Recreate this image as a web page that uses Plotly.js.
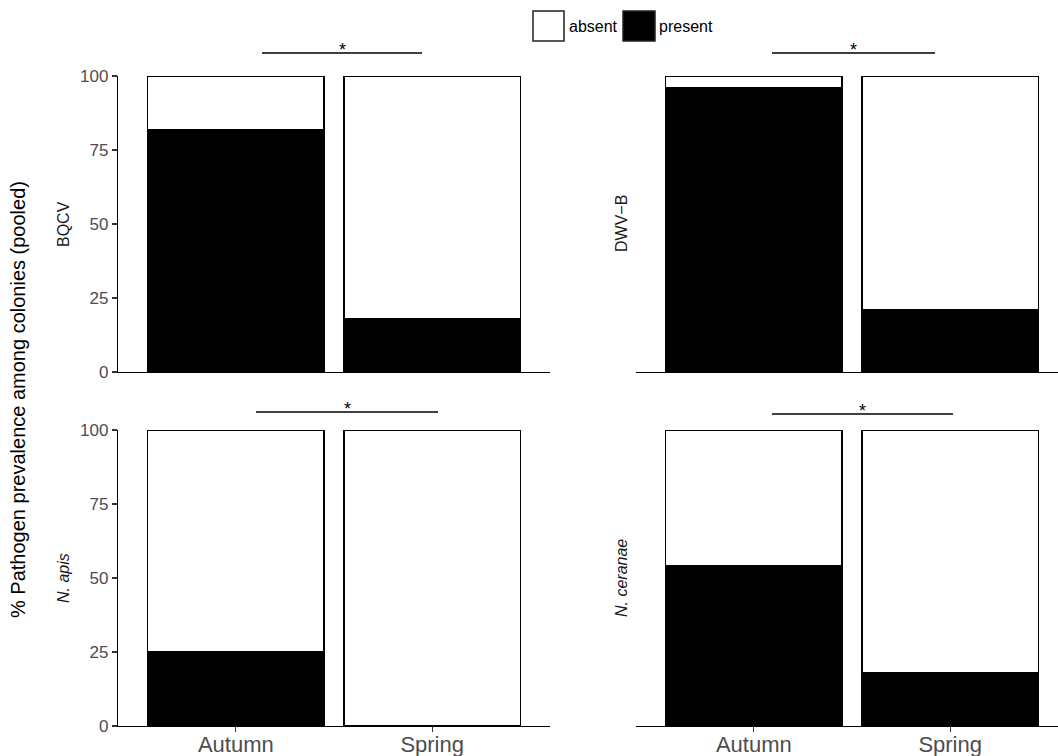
<!DOCTYPE html>
<html>
<head>
<meta charset="utf-8">
<script src="https://cdn.plot.ly/plotly-3.0.1.min.js"></script>
<style>html,body{margin:0;padding:0;background:#fff;}#chart{width:1058px;height:756px;}</style>
</head>
<body>
<div id="chart"></div>
<script>
// ---- data ----
const seasons = ['Autumn', 'Spring'];
const pathogens = ['BQCV', 'DWV\u2212B', '<i>N. apis</i>', '<i>N. ceranae</i>'];
const presentBQCV = [82, 18];
const absentBQCV = [18, 82];
const presentDWVB = [96, 21];
const absentDWVB = [4, 79];
const presentNapis = [25, 0];
const absentNapis = [75, 100];
const presentNceranae = [54, 18];
const absentNceranae = [46, 82];
const yTickVals = [0, 25, 50, 75, 100];
const yTickText = ['0', '25', '50', '75', '100'];
const legendLabels = ['absent', 'present'];
const yTitle = '% Pathogen prevalence among colonies (pooled)';
const sigLabel = '*';

// ---- helpers ----
const W = 1058, H = 756;
const px = x => x / W;
const py = y => 1 - y / H;
const FONT = 'Liberation Sans, Arial, Helvetica, sans-serif';

const panels = [
  {present: presentBQCV, absent: absentBQCV, xa: 'x', ya: 'y'},
  {present: presentDWVB, absent: absentDWVB, xa: 'x2', ya: 'y2'},
  {present: presentNapis, absent: absentNapis, xa: 'x3', ya: 'y3'},
  {present: presentNceranae, absent: absentNceranae, xa: 'x4', ya: 'y4'}
];

const traces = [];
panels.forEach(p => {
  traces.push({type: 'bar', x: seasons, y: p.present, xaxis: p.xa, yaxis: p.ya,
    marker: {color: '#000000', line: {color: '#000000', width: 1.5}},
    name: legendLabels[1], showlegend: false, hoverinfo: 'skip'});
  traces.push({type: 'bar', x: seasons, y: p.absent, xaxis: p.xa, yaxis: p.ya,
    marker: {color: '#ffffff', line: {color: '#000000', width: 1.5}},
    name: legendLabels[0], showlegend: false, hoverinfo: 'skip'});
});

const leftDom = [px(118), px(550)];
const rightDom = [px(636), 1];
const topDom = [py(372), py(76)];
const botDom = [py(726), py(430)];
const unit = (550 - 118) / 2.2;
const leftRange = [-0.6, 1.6];
const rightRange = [-0.6, -0.6 + (W - 636) / unit];

function xaxisDef(dom, range, anchor, bottom) {
  return {
    domain: dom, range: range, anchor: anchor, type: 'category', fixedrange: true,
    showline: true, linecolor: '#000', linewidth: 1.2, showgrid: false, zeroline: false,
    ticks: bottom ? 'outside' : '', ticklen: 5, tickwidth: 1.2, tickcolor: '#333',
    showticklabels: bottom, ticklabelstandoff: -7,
    tickfont: {family: FONT, size: 22, color: '#4D4D4D'}
  };
}
function yaxisDef(dom, anchor, left) {
  return {
    domain: dom, range: [0, 100], anchor: anchor, fixedrange: true,
    showline: left, linecolor: '#000', linewidth: 1.2, showgrid: false, zeroline: false,
    ticks: left ? 'outside' : '', ticklen: 5, tickwidth: 1.2, tickcolor: '#333',
    showticklabels: left, tickvals: yTickVals, ticktext: yTickText,
    tickfont: {family: FONT, size: 17, color: '#4D4D4D'}
  };
}

const annotations = [];
const shapes = [];

// strip labels
const stripPos = [[63, 224], [621, 224], [63, 578], [621, 578]];
pathogens.forEach((t, i) => {
  annotations.push({text: t, xref: 'paper', yref: 'paper', x: px(stripPos[i][0]), y: py(stripPos[i][1]),
    xanchor: 'center', yanchor: 'middle', textangle: -90, showarrow: false,
    font: {family: FONT, size: 16, color: '#1A1A1A'}});
});

// y title
annotations.push({text: yTitle, xref: 'paper', yref: 'paper', x: px(18), y: py(400),
  xanchor: 'center', yanchor: 'middle', textangle: -90, showarrow: false,
  font: {family: FONT, size: 20, color: '#000'}});

// significance lines
const sig = [[262, 422, 53], [772, 935, 53], [256, 438, 412], [772, 953, 414]];
sig.forEach(s => {
  shapes.push({type: 'line', xref: 'paper', yref: 'paper', x0: px(s[0]), x1: px(s[1]), y0: py(s[2]), y1: py(s[2]),
    line: {color: '#000', width: 1.3}});
  annotations.push({text: sigLabel, xref: 'paper', yref: 'paper', x: px((s[0] + s[1]) / 2), y: py(s[2] - 3),
    xanchor: 'center', yanchor: 'middle', showarrow: false, font: {family: FONT, size: 18, color: '#000'}});
});

// legend
shapes.push({type: 'rect', xref: 'paper', yref: 'paper', x0: px(533), x1: px(564), y0: py(41), y1: py(11),
  fillcolor: '#fff', line: {color: '#222', width: 1.5}});
shapes.push({type: 'rect', xref: 'paper', yref: 'paper', x0: px(623), x1: px(655), y0: py(41), y1: py(11),
  fillcolor: '#000', line: {color: '#222', width: 1.5}});
annotations.push({text: legendLabels[0], xref: 'paper', yref: 'paper', x: px(567), y: py(26),
  xanchor: 'left', yanchor: 'middle', showarrow: false, font: {family: FONT, size: 16, color: '#000'}});
annotations.push({text: legendLabels[1], xref: 'paper', yref: 'paper', x: px(657), y: py(26),
  xanchor: 'left', yanchor: 'middle', showarrow: false, font: {family: FONT, size: 16, color: '#000'}});

const layout = {
  width: W, height: H,
  margin: {l: 0, r: 0, t: 0, b: 0},
  paper_bgcolor: '#fff', plot_bgcolor: '#fff',
  barmode: 'stack', bargap: 0.1,
  showlegend: false,
  font: {family: FONT},
  xaxis: xaxisDef(leftDom, leftRange, 'y', false),
  yaxis: yaxisDef(topDom, 'x', true),
  xaxis2: xaxisDef(rightDom, rightRange, 'y2', false),
  yaxis2: yaxisDef(topDom, 'x2', false),
  xaxis3: xaxisDef(leftDom, leftRange, 'y3', true),
  yaxis3: yaxisDef(botDom, 'x3', true),
  xaxis4: xaxisDef(rightDom, rightRange, 'y4', true),
  yaxis4: yaxisDef(botDom, 'x4', false),
  annotations: annotations,
  shapes: shapes
};

Plotly.newPlot('chart', traces, layout, {staticPlot: true, displayModeBar: false});
</script>
</body>
</html>
